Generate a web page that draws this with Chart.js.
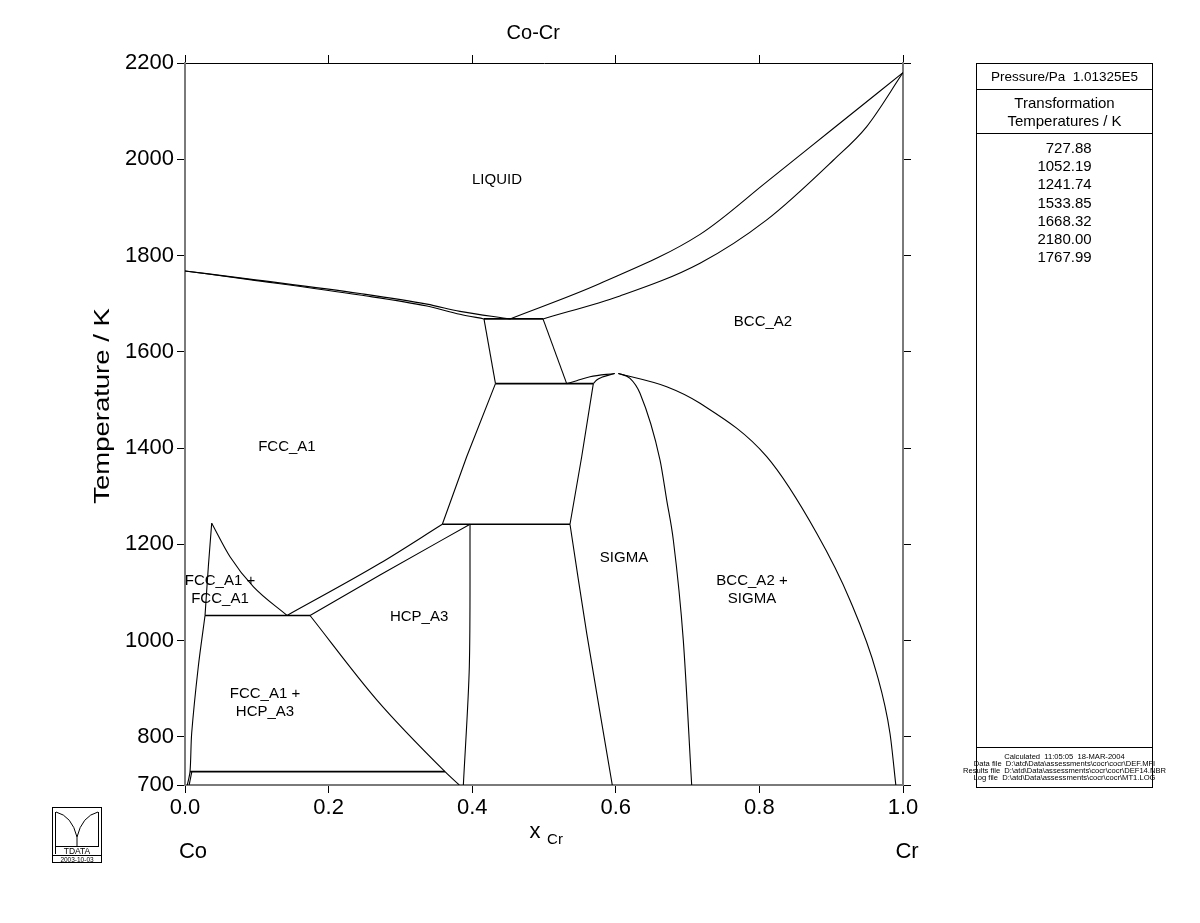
<!DOCTYPE html>
<html>
<head>
<meta charset="utf-8">
<title>Co-Cr</title>
<script src="https://cdn.jsdelivr.net/npm/chart.js@4.4.1/dist/chart.umd.min.js"></script>
<style>
    html, body { margin: 0; padding: 0; background: #fff; }
    #wrap { position: relative; width: 1200px; height: 923px; font-family: 'Liberation Sans', Arial, sans-serif; color: #000; }
    #chart { position: absolute; left: 0; top: 0; }
    #panel { position: absolute; left: 976px; top: 63px; width: 175px; height: 723px; border: 1px solid #000; }
    #panel .hdr { height: 25px; line-height: 26px; border-bottom: 1px solid #000; text-align: center; font-size: 13.5px; white-space: nowrap; }
    #panel .sub { height: 44px; border-bottom: 1px solid #000; text-align: center; font-size: 15px; line-height: 18px; padding-top: 4px; box-sizing: border-box; }
    #panel .vals { text-align: center; padding-top: 5px; }
    #panel .vals div { display: inline-block; text-align: right; font-size: 15px; line-height: 18.2px; }
    #panel .foot { position: absolute; left: 0; right: 0; bottom: 0; height: 40px; border-top: 1px solid #000; text-align: center; font-size: 7.6px; line-height: 7px; padding-top: 5px; box-sizing: border-box; white-space: nowrap; }
    #panel .foot div { width: 175px; display: flex; justify-content: center; }
    #logo { position: absolute; left: 52px; top: 807px; }
</style>
</head>
<body>
<div id="wrap">
    <canvas id="chart" width="1200" height="923"></canvas>
    <div id="panel">
        <div class="hdr">Pressure/Pa&nbsp; 1.01325E5</div>
        <div class="sub">Transformation<br>Temperatures / K</div>
        <div class="vals"><div id="vals"></div></div>
        <div class="foot" id="foot"></div>
    </div>
    <svg id="logo" width="50" height="56" viewBox="0 0 50 56">
        <rect x="0.5" y="0.5" width="49" height="55" fill="none" stroke="#000" stroke-width="1"/>
        <line x1="0.5" y1="48.5" x2="49.5" y2="48.5" stroke="#000" stroke-width="1"/>
        <line x1="3.5" y1="5" x2="3.5" y2="47" stroke="#000" stroke-width="1"/>
        <line x1="46.5" y1="5" x2="46.5" y2="40" stroke="#000" stroke-width="1"/>
        <path d="M4 5 Q 20 9 25 30 M46 5 Q 30 9 25 30 M25 30 L25 40" fill="none" stroke="#000" stroke-width="1"/>
        <line x1="3.5" y1="39.5" x2="46.5" y2="39.5" stroke="#000" stroke-width="1"/>
        <text x="25" y="47" text-anchor="middle" font-size="8.5" font-family="Liberation Sans, Arial, sans-serif">TDATA</text>
        <text x="25" y="54.5" text-anchor="middle" font-size="6.5" font-family="Liberation Sans, Arial, sans-serif">2003-10-03</text>
    </svg>
</div>
<script>
// Co-Cr phase diagram, mole fraction of Cr against temperature (K)

// Axis ticks
const xTicks = [0, 0.2, 0.4, 0.6, 0.8, 1.0];
const yTicks = [700, 800, 1000, 1200, 1400, 1600, 1800, 2000, 2200];

// Liquidus and solidus, Co side
const liqCoX = [0, 0.09, 0.2437, 0.337, 0.383, 0.4526];
const liqCoT = [1767.99, 1751, 1721, 1699, 1684, 1668.32];
const solCoX = [0, 0.09, 0.2437, 0.337, 0.383, 0.4164];
const solCoT = [1767.99, 1750, 1718, 1695, 1678, 1668.32];

// Liquidus and solidus, Cr side
const liqCrX = [0.4526, 0.578, 0.7173, 0.8102, 0.9029, 1.0];
const liqCrT = [1668.32, 1742, 1844, 1953, 2064, 2180];
const solCrX = [0.4986, 0.6058, 0.7173, 0.8102, 0.9029, 0.9495, 1.0];
const solCrT = [1668.32, 1716, 1784, 1874, 1998, 2068, 2180];

// FCC + BCC band
const fccBccLX = [0.4164, 0.4324];
const fccBccLT = [1668.32, 1533.85];
const fccBccRX = [0.4986, 0.5316];
const fccBccRT = [1668.32, 1533.85];

// Sigma dome
const bccDomeLX = [0.5316, 0.5455, 0.5641, 0.5985];
const bccDomeLT = [1533.85, 1540, 1548.3, 1555];
const sigDomeLX = [0.5687, 0.5734, 0.5804, 0.5985];
const sigDomeLT = [1533.85, 1541.4, 1547, 1555];
const sigRightX = [0.6035, 0.6198, 0.6337, 0.6616, 0.6709, 0.6801, 0.694, 0.7057];
const sigRightT = [1555, 1545, 1514, 1375, 1292, 1209, 1001, 700];
const bccRightX = [0.6035, 0.6709, 0.7173, 0.8102, 0.8798, 0.9262, 0.9633, 0.9819, 0.990];
const bccRightT = [1555, 1527.5, 1493, 1382, 1223, 1084, 932, 807, 700];
const sigLeftUX = [0.5687, 0.5525, 0.5362];
const sigLeftUT = [1533.85, 1382, 1241.74];
const sigLeftLX = [0.5362, 0.5595, 0.5951];
const sigLeftLT = [1241.74, 1015, 700];

// FCC + SIGMA, HCP
const fccSigX = [0.3584, 0.3923, 0.4324];
const fccSigT = [1241.74, 1382, 1533.85];
const hcpRightX = [0.397, 0.396, 0.3877];
const hcpRightT = [1241.74, 946, 700];
const fccHcpUX = [0.1421, 0.2716, 0.3584];
const fccHcpUT = [1052.19, 1160.6, 1241.74];
const hcpFccUX = [0.1741, 0.2716, 0.397];
const hcpFccUT = [1052.19, 1136.3, 1241.74];
const hcpLowX = [0.1741, 0.267, 0.3621, 0.382];
const hcpLowT = [1052.19, 877, 727.88, 700];

// FCC miscibility gap and Co-rich FCC boundary
const gapRightX = [0.0372, 0.0627, 0.0951, 0.1421];
const gapRightT = [1244, 1174.3, 1112, 1052.19];
const gapLeftX = [0.0372, 0.0325, 0.0279];
const gapLeftT = [1244, 1153.5, 1052.19];
const fccLowX = [0.0279, 0.0185, 0.0093, 0.007, 0.0032];
const fccLowT = [1052.19, 945.8, 807.4, 727.88, 700];
const coHcpX = [0.0095, 0.0058];
const coHcpT = [727.88, 700];

// Invariant reactions (K) and their composition ranges
const invT = [1668.32, 1533.85, 1241.74, 1052.19, 727.88];
const invX1 = [0.4164, 0.4324, 0.3584, 0.0279, 0.007];
const invX2 = [0.4986, 0.5687, 0.5362, 0.1741, 0.3621];

// Side panel values
const transformationTemps = [727.88, 1052.19, 1241.74, 1533.85, 1668.32, 2180.00, 1767.99];
const footLines = [
    'Calculated  11:05:05  18-MAR-2004',
    'Data file  D:\\atd\\Data\\assessments\\cocr\\cocr\\DEF.MFI',
    'Results file  D:\\atd\\Data\\assessments\\cocr\\cocr\\DEF14.NBR',
    'Log file  D:\\atd\\Data\\assessments\\cocr\\cocr\\MT1.LOG'
];

// Phase region labels
const regionLines = [['LIQUID'], ['BCC_A2'], ['FCC_A1'], ['FCC_A1 +', 'FCC_A1'], ['HCP_A3'],
    ['FCC_A1 +', 'HCP_A3'], ['SIGMA'], ['BCC_A2 +', 'SIGMA']];
const regionX = [0.4345, 0.805, 0.142, 0.0487, 0.326, 0.1114, 0.6114, 0.7897];
const regionT = [1957, 1662, 1402, 1105, 1049, 870, 1172, 1105];

const FONT = "'Liberation Sans', Arial, Helvetica, sans-serif";
Chart.defaults.font.family = FONT;

document.getElementById('vals').innerHTML = transformationTemps.map(t => t.toFixed(2)).join('<br>');
document.getElementById('foot').innerHTML = footLines
    .map(l => '<div>' + l.replace(/ /g, '&nbsp;') + '</div>').join('');

// smooth = 'm' gives a monotone cubic along x, a number gives the spline tension
function curve(xs, ts, smooth, width) {
    return {
        data: xs.map((x, i) => ({ x: x, y: ts[i] })),
        showLine: true,
        pointRadius: 0,
        borderColor: '#000',
        borderWidth: width || 1.1,
        cubicInterpolationMode: smooth === 'm' ? 'monotone' : 'default',
        tension: typeof smooth === 'number' ? smooth : 0,
        fill: false
    };
}

const datasets = [
    curve(liqCoX, liqCoT, 'm'),
    curve(solCoX, solCoT, 'm'),
    curve(liqCrX, liqCrT, 'm'),
    curve(solCrX, solCrT, 'm'),
    curve(fccBccLX, fccBccLT),
    curve(fccBccRX, fccBccRT),
    curve(bccDomeLX, bccDomeLT, 'm'),
    curve(sigDomeLX, sigDomeLT, 'm'),
    curve(sigRightX, sigRightT, 'm'),
    curve(bccRightX, bccRightT, 'm'),
    curve(sigLeftUX, sigLeftUT),
    curve(sigLeftLX, sigLeftLT, 0.3),
    curve(fccSigX, fccSigT),
    curve(hcpRightX, hcpRightT, 0.3),
    curve(fccHcpUX, fccHcpUT, 'm'),
    curve(hcpFccUX, hcpFccUT, 'm'),
    curve(hcpLowX, hcpLowT, 'm'),
    curve(gapRightX, gapRightT, 'm'),
    curve(gapLeftX, gapLeftT, 0.3),
    curve(fccLowX, fccLowT, 0.3),
    curve(coHcpX, coHcpT)
];
invT.forEach((t, i) => datasets.push(curve([invX1[i], invX2[i]], [t, t], 0, 1.6)));

// Texts that are not tick labels: title, axis names, region labels
const textPlugin = {
    id: 'texts',
    afterDraw(chart) {
        const { ctx, chartArea } = chart;
        const xs = chart.scales.x, ys = chart.scales.y;
        ctx.save();
        ctx.fillStyle = '#000';
        ctx.textAlign = 'center';
        ctx.textBaseline = 'middle';

        ctx.font = '20px ' + FONT;
        ctx.fillText('Co-Cr', xs.getPixelForValue(0.485), chartArea.top - 30);

        ctx.font = '22px ' + FONT;
        ctx.fillText('x', xs.getPixelForValue(0.4875), chartArea.bottom + 47);
        ctx.font = '15px ' + FONT;
        ctx.fillText('Cr', xs.getPixelForValue(0.4875) + 20, chartArea.bottom + 55);

        ctx.font = '22px ' + FONT;
        ctx.fillText('Co', xs.getPixelForValue(0) + 8, chartArea.bottom + 67);
        ctx.fillText('Cr', xs.getPixelForValue(1) + 4, chartArea.bottom + 67);

        ctx.save();
        ctx.font = '22px ' + FONT;
        ctx.translate(103, 406);
        ctx.rotate(-Math.PI / 2);
        ctx.scale(1.25, 1);
        ctx.fillText('Temperature / K', 0, 0);
        ctx.restore();

        ctx.font = '15px ' + FONT;
        regionLines.forEach((lines, i) => {
            const px = xs.getPixelForValue(regionX[i]);
            const py = ys.getPixelForValue(regionT[i]);
            lines.forEach((txt, j) => {
                ctx.fillText(txt, px, py + (j - (lines.length - 1) / 2) * 18);
            });
        });
        ctx.restore();
    }
};

const gridOpts = { drawOnChartArea: false, drawTicks: true, tickLength: 8, tickColor: '#000', lineWidth: 1 };
const borderOpts = { color: '#7a7a7a', width: 2 };

new Chart(document.getElementById('chart'), {
    type: 'scatter',
    data: { datasets: datasets },
    options: {
        responsive: false,
        animation: false,
        layout: { padding: 0 },
        plugins: { legend: { display: false }, title: { display: false }, tooltip: { enabled: false } },
        scales: {
            x: {
                type: 'linear', position: 'bottom', min: 0, max: 1,
                afterBuildTicks: s => { s.ticks = xTicks.map(v => ({ value: v })); },
                afterFit: s => { s.height = 138; },
                ticks: { callback: v => v.toFixed(1), color: '#000', font: { size: 22 }, padding: 2, maxRotation: 0 },
                grid: gridOpts, border: borderOpts
            },
            x2: {
                type: 'linear', position: 'top', min: 0, max: 1,
                afterBuildTicks: s => { s.ticks = xTicks.map(v => ({ value: v })); },
                afterFit: s => { s.height = 63; },
                ticks: { display: false },
                grid: gridOpts, border: { color: '#000', width: 1 }
            },
            y: {
                type: 'linear', position: 'left', min: 700, max: 2200,
                afterBuildTicks: s => { s.ticks = yTicks.map(v => ({ value: v })); },
                afterFit: s => { s.width = 185; },
                ticks: { callback: v => String(v), color: '#000', font: { size: 22 }, padding: 3 },
                grid: gridOpts, border: borderOpts
            },
            y2: {
                type: 'linear', position: 'right', min: 700, max: 2200,
                afterBuildTicks: s => { s.ticks = yTicks.map(v => ({ value: v })); },
                afterFit: s => { s.width = 297; },
                ticks: { display: false },
                grid: gridOpts, border: borderOpts
            }
        }
    },
    plugins: [textPlugin]
});
</script>
</body>
</html>
